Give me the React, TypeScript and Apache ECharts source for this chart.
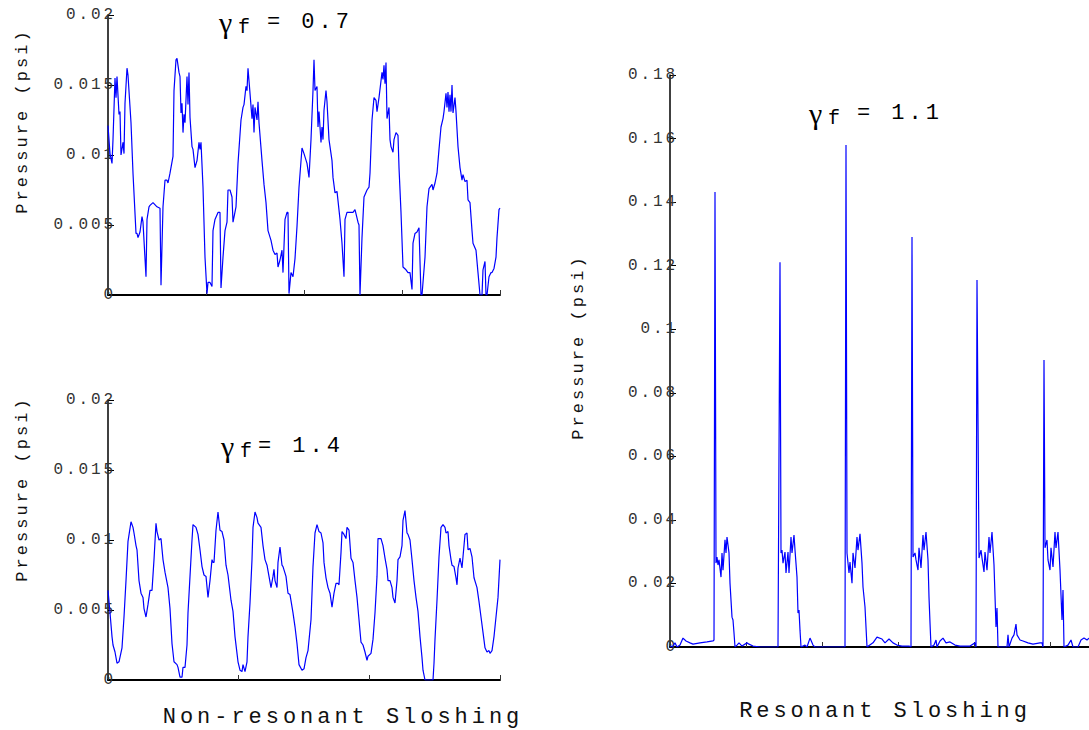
import React, { useEffect, useRef } from "react";
import * as echarts from "echarts";

// ---- data: [time (samples), pressure] ----
// Non-resonant, gamma_f = 0.7  (pressure in 1e-4 psi)
const nonResonant07: [number, number][] = [
  [0,121],[2,101],[4,94],[5,111],[7,155],[8,141],[9,156],[11,129],[12,131],[13,100],[15,109],[16,101],[17,137],[19,162],[20,157],[23,123],[25,87],[28,44],[29,44],[30,41],[32,45],[34,56],[35,52],[38,13],[39,54],[41,63],[42,64],[45,66],[49,63],[52,62],[53,7],[55,63],[57,82],[59,82],[60,80],[62,87],[65,99],[66,146],[68,168],[69,169],[71,159],[72,156],[73,130],[74,137],[75,116],[76,129],[77,123],[79,156],[80,136],[81,159],[82,127],[84,106],[85,104],[87,91],[89,96],[91,109],[92,104],[93,109],[95,77],[97,27],[99,1],[100,9],[102,9],[104,6],[105,46],[107,54],[110,59],[112,59],[113,5],[115,27],[117,46],[119,52],[120,75],[122,75],[124,70],[125,52],[128,63],[130,94],[133,125],[135,134],[136,136],[138,149],[139,146],[140,162],[142,144],[144,126],[145,136],[146,116],[147,134],[149,125],[150,138],[151,123],[154,96],[156,79],[158,66],[160,46],[163,39],[165,32],[167,29],[169,30],[170,20],[172,25],[174,32],[175,16],[177,54],[179,59],[180,59],[181,1],[183,16],[185,13],[187,26],[189,49],[191,77],[194,105],[196,101],[199,94],[201,84],[203,111],[205,146],[206,168],[207,146],[209,149],[210,120],[211,131],[213,109],[214,120],[215,111],[216,132],[218,146],[219,138],[221,111],[224,96],[225,84],[227,73],[229,74],[232,54],[234,37],[236,13],[237,54],[239,59],[242,59],[245,59],[247,61],[250,52],[251,50],[252,0],[254,41],[256,70],[259,75],[261,77],[262,87],[264,125],[266,141],[268,139],[269,131],[271,141],[274,159],[275,154],[276,164],[277,151],[278,166],[279,126],[281,134],[282,111],[283,106],[285,102],[286,111],[288,116],[290,114],[291,91],[293,59],[295,20],[298,18],[300,16],[302,16],[304,4],[305,37],[307,44],[309,45],[311,48],[313,0],[314,0],[317,27],[319,63],[321,76],[324,79],[325,75],[327,80],[329,87],[331,104],[333,120],[335,126],[336,131],[338,144],[339,134],[340,145],[341,131],[342,143],[343,131],[344,150],[345,130],[347,141],[348,131],[350,106],[352,91],[354,82],[355,86],[357,81],[359,82],[360,68],[362,66],[364,46],[365,37],[368,32],[370,16],[372,0],[374,0],[375,18],[377,24],[378,0],[379,0],[381,13],[383,16],[384,16],[386,19],[388,27],[389,41],[391,61],[392,62]
];

// Non-resonant, gamma_f = 1.4  (pressure in 1e-4 psi)
const nonResonant14: [number, number][] = [
  [0,64],[2,48],[4,31],[5,25],[7,20],[9,12],[11,13],[14,23],[16,45],[18,71],[20,99],[23,113],[25,109],[26,105],[28,96],[29,93],[31,71],[33,62],[35,59],[36,51],[38,45],[40,54],[42,64],[44,64],[46,86],[48,112],[49,106],[51,100],[53,101],[55,86],[57,77],[60,66],[62,51],[64,26],[66,13],[69,11],[70,9],[72,2],[74,2],[75,9],[77,9],[79,25],[80,48],[82,74],[84,100],[85,111],[88,109],[90,104],[92,93],[94,81],[96,75],[98,74],[100,59],[102,71],[104,86],[105,84],[106,84],[108,107],[110,120],[112,107],[114,106],[116,100],[118,82],[120,75],[123,57],[125,49],[127,31],[129,19],[130,13],[132,7],[134,6],[135,11],[137,6],[139,13],[140,31],[142,55],[144,86],[145,109],[147,120],[149,116],[150,112],[153,109],[155,96],[157,86],[159,82],[161,74],[163,66],[165,74],[166,79],[167,71],[169,66],[170,84],[172,95],[174,82],[175,81],[178,74],[180,62],
  [182,61],[185,48],[187,38],[189,26],[191,11],[194,7],[196,8],[198,16],[200,21],[203,43],[205,81],[207,105],[209,111],[211,106],[213,105],[215,98],[216,84],[218,73],[220,66],[222,62],[224,52],[226,62],[228,69],[230,69],[231,68],[233,91],[234,106],[236,104],[238,101],[239,109],[241,107],[243,87],[245,84],[247,71],[249,59],[251,43],[253,27],[255,25],[257,20],[259,14],[260,17],[263,19],[265,29],[267,48],[269,74],[270,101],[273,101],[275,96],[277,87],[279,79],[280,71],[282,71],[284,66],[285,59],[287,55],[289,71],[290,86],[292,88],[294,96],[295,114],[297,121],[299,105],[300,104],[302,100],[304,86],[306,71],[308,59],[310,49],[312,31],[314,16],[315,7],[317,0],[325,0],[326,12],[327,29],[329,57],[331,88],[333,109],[335,111],[337,109],[338,105],[340,106],[341,96],[343,86],[344,82],[346,81],[348,73],[349,68],[350,80],[352,87],[354,80],[355,88],[357,104],[359,105],[360,93],[362,94],[364,88],[366,73],[369,66],[371,56],[373,45],[375,34],[377,23],[379,20],[381,21],[382,19],[384,21],[386,31],[388,45],[390,59],[392,86]
];

// Resonant, gamma_f = 1.1  (pressure in 1e-3 psi)
const resonant11: [number, number][] = [
  [0,0.3],[2,0],[5,1.3],[7,0],[10,0.6],[13,2.8],[16,1.9],[20,1.3],[23,0.9],[30,1.3],[37,1.6],[43,1.9],[44,2.2],[45,143.2],[46,26.4],[47,28.3],[48,25.8],[49,27.4],[51,22],[52,29.6],[53,24.2],[55,33.7],[56,29.6],[57,34.6],[59,29.6],[60,20.1],[62,9.4],[63,8.5],[64,4.4],[65,0],[67,0.6],[69,1.3],[72,0.3],[77,1.3],[79,0.9],[83,0.3],[90,0],[108,0],[110,121.1],[111,29.6],[112,30.5],[113,26.4],[115,29.9],[116,23.3],[118,29.9],[119,23.3],[121,34.6],[122,29.6],[124,35.2],[125,30.5],[127,22],[128,10.7],[129,11.6],[130,5.3],[131,0],[135,0.6],[137,0],[140,2.8],[143,0.6],[145,0],[175,0],[176,158],[177,29.6],[179,23.3],[180,26.7],[182,20.1],[183,29.6],[185,24.9],[187,34.6],[188,30.5],[190,35.6],[192,26.4],[193,18.9],[195,12.6],[196,6.3],[197,0],[203,1.3],[207,3.1],[212,2.5],[215,1.3],[219,2.5],[223,1.3],[227,0.6],[232,0.3],[239,0.3],[241,0],[242,129],[243,28.3],[245,29.6],[246,27.4],[248,24.2],[249,31.2],[251,24.9],[253,35.2],[254,30.5],[256,36.2],[258,27.4],[259,15.7],[260,7.6],[261,0],[264,0.6],[266,2.2],[267,0],[270,1.9],[273,2.8],[276,1.3],[280,1.6],[285,0.6],[290,0.3],[300,0.3],[305,1.3],[306,0],[307,115.5],[309,28],[311,30.5],[312,28],[314,23.6],[315,29.9],[317,24.2],[319,34.6],[320,29.6],[322,36.2],[324,25.8],[326,6.3],[327,12.3],[328,0],[337,0],[338,3.8],[339,0],[342,2.8],[344,3.8],[346,7.2],[347,3.8],[350,2.2],[353,1.9],[358,1.3],[363,0.9],[370,1.3],[372,1.3],[373,0],[374,90.3],[375,31.2],[377,33.7],[378,27.4],[380,24.2],[381,31.2],[383,25.2],[385,36.2],[386,31.2],[388,36.2],[390,24.2],[392,8.5],[393,17.9],[394,0],[398,0.6],[401,2.2],[403,0],[408,0],[411,2.2],[414,2.8],[417,2.2],[419,2.8]
];

const yTicksSmall = { min: 0, max: 0.02, interval: 0.005 };
const yTicksLarge = { min: 0, max: 0.18, interval: 0.02 };
const timeAxisA = { min: 0, max: 392, interval: 98 };
const timeAxisB = { min: 0, max: 392, interval: 392 / 3 };
const timeAxisC = { min: 0, max: 419, interval: 76 };

const titleValues = { a: "= 0.7", b: "= 1.4", c: "= 1.1" };
const yName = "Pressure (psi)";
const xNameLeft = "Non-resonant Sloshing";
const xNameRight = "Resonant Sloshing";

const MONO = "Liberation Mono";
const SERIF = "Liberation Serif";

function scale(data: [number, number][], k: number) {
  return data.map(([t, p]) => [t, +(p * k).toFixed(6)]);
}

function xAxisOf(grid: number, r: { min: number; max: number; interval: number }) {
  return {
    type: "value",
    gridIndex: grid,
    min: r.min,
    max: r.max,
    interval: r.interval,
    axisLine: { show: true, lineStyle: { color: "#000", width: 2 } },
    axisTick: { show: true, inside: true, length: 5, lineStyle: { color: "#333", width: 1 } },
    axisLabel: { show: false },
    splitLine: { show: false },
  };
}

function yAxisOf(grid: number, r: { min: number; max: number; interval: number }) {
  return {
    type: "value",
    gridIndex: grid,
    min: r.min,
    max: r.max,
    interval: r.interval,
    axisLine: { show: true, lineStyle: { color: "#000", width: 1.5 } },
    axisTick: { show: true, inside: true, length: 6, lineStyle: { color: "#000", width: 1 } },
    axisLabel: { show: true, color: "#333", fontFamily: MONO, fontSize: 16, margin: -8 },
    splitLine: { show: false },
  };
}

function lineSeries(idx: number, data: number[][]) {
  return {
    type: "line",
    xAxisIndex: idx,
    yAxisIndex: idx,
    data,
    showSymbol: false,
    symbol: "none",
    lineStyle: { color: "#0000ff", width: 1.2 },
    itemStyle: { color: "#0000ff" },
    clip: true,
  };
}

function titleParts(x: number, y: number, restX: number, rest: string) {
  return [
    {
      type: "text",
      x,
      y,
      style: { text: "γ", font: `30px ${SERIF}`, fill: "#000", align: "left", verticalAlign: "middle" },
    },
    {
      type: "text",
      x: x + 19,
      y: y + 5,
      style: { text: "f", font: `20px ${MONO}`, fill: "#000", align: "left", verticalAlign: "middle" },
    },
    {
      type: "text",
      x: restX,
      y,
      style: { text: rest, font: `22px ${MONO}`, fill: "#000", align: "left", verticalAlign: "middle" },
    },
  ];
}

function vText(x: number, y: number) {
  return {
    type: "text",
    x,
    y,
    rotation: Math.PI / 2,
    style: { text: yName, font: `17px ${MONO}`, fill: "#111", align: "center", verticalAlign: "middle" },
  };
}

function hText(x: number, y: number, text: string) {
  return {
    type: "text",
    x,
    y,
    style: { text, font: `22px ${MONO}`, fill: "#111", align: "center", verticalAlign: "middle" },
  };
}

export default function App() {
  const ref = useRef<HTMLDivElement>(null);
  useEffect(() => {
    if (!ref.current) return;
    const chart = echarts.init(ref.current, null, { renderer: "svg" });
    chart.setOption({
      animation: false,
      backgroundColor: "#fff",
      grid: [
        { left: 108, top: 15, width: 392, height: 280 },
        { left: 108, top: 400, width: 392, height: 280 },
        { left: 670, top: 75, width: 419, height: 572 },
      ],
      xAxis: [xAxisOf(0, timeAxisA), xAxisOf(1, timeAxisB), xAxisOf(2, timeAxisC)],
      yAxis: [yAxisOf(0, yTicksSmall), yAxisOf(1, yTicksSmall), yAxisOf(2, yTicksLarge)],
      series: [
        lineSeries(0, scale(nonResonant07, 1e-4)),
        lineSeries(1, scale(nonResonant14, 1e-4)),
        lineSeries(2, scale(resonant11, 1e-3)),
      ],
      graphic: [
        ...titleParts(219, 22, 267, titleValues.a),
        ...titleParts(221, 446, 258, titleValues.b),
        ...titleParts(809, 113, 857, titleValues.c),
        vText(22, 121),
        vText(22, 489),
        vText(578, 347),
        hText(343, 717, xNameLeft),
        hText(885, 711, xNameRight),
      ],
    });
    return () => chart.dispose();
  }, []);
  return (
    <>
      <style>{`#chart-host text { letter-spacing: 0.18em; }`}</style>
      <div
        id="chart-host"
        ref={ref}
        style={{ position: "absolute", left: 0, top: 0, width: 1089, height: 730, overflow: "hidden" }}
      />
    </>
  );
}
